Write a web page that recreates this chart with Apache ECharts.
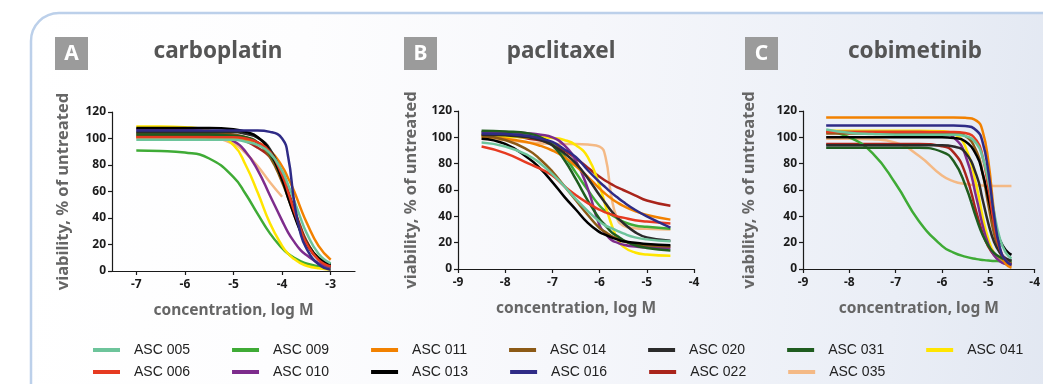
<!DOCTYPE html>
<html>
<head>
<meta charset="utf-8">
<script src="https://cdn.jsdelivr.net/npm/echarts@6/dist/echarts.min.js"></script>
<style>
  html, body { margin: 0; padding: 0; background: #fff; }
  #chart { width: 1043px; height: 384px; }
</style>
</head>
<body>
<div id="chart"></div>
<script>
// cell lines, in legend rows
const legendRow1 = ["ASC 005", "ASC 009", "ASC 011", "ASC 014", "ASC 020", "ASC 031", "ASC 041"];
const legendRow2 = ["ASC 006", "ASC 010", "ASC 013", "ASC 016", "ASC 022", "ASC 035"];
const drugs = ["carboplatin", "paclitaxel", "cobimetinib"];
const panelLetters = ["A", "B", "C"];
const carboTicks = [-7, -6, -5, -4, -3];

// carboplatin, log M
const carboLogM = [-7, -6.5, -6, -5.5, -5, -4.75, -4.5, -4.25, -4, -3.875, -3.75, -3.625, -3.5, -3.25, -3];
const carbo005 = [99, 99, 99, 99, 99, 97.6, 95, 89, 75.5, 65, 53, 40.5, 29, 13, 5.7];
const carbo006 = [101, 101, 101, 101, 101, 100, 97, 90, 72.5, 59.5, 45, 32, 21, 8.4, 3.5];
const carbo009 = [90.9, 90.6, 89.4, 84.9, 70.9, 58.1, 42.9, 28.4, 17.2, 13, 9.9, 7.5, 5.7, 3.4, 2.2];
const carbo010 = [107, 107, 106.5, 105, 98, 90, 76, 57, 38, 29, 22, 16, 12, 6, 3];
const carbo011 = [101, 101, 101, 100.8, 100.3, 99, 97, 91, 79, 70, 60, 48, 37, 19, 8.5];
const carbo013 = [108, 108, 108, 108, 107, 105, 101, 90, 69, 55, 42, 30, 21, 9.5, 4.8];
const carbo014 = [104, 104, 104, 104, 103, 101, 96.5, 86, 67, 55, 42.5, 31, 21.6, 10, 4.6];
const carbo016 = [106, 106, 106, 106, 106, 106, 106, 105, 100, 86, 52, 29, 17, 5, 1];
const carbo020 = [105, 105, 105, 105, 105, 103.5, 100.5, 92, 72.6, 59, 44, 31, 20.5, 8.7, 4.2];
const carbo022 = [102, 102, 102, 102, 101, 98, 93, 86, 72, 60, 47, 34, 23, 9, 3];
const carbo031 = [103, 103, 103, 103, 102, 101, 97, 88, 70, 58, 45, 32.5, 22, 9.7, 4.3];
const carbo035 = [101, 101, 101, 100.5, 96, 89, 79, 67, 56, null, null, null, null, null, null];
const carbo041 = [109, 109, 108.5, 106, 95, 80, 59, 36, 19, 13, 9, 6, 4, 2, 1];

// paclitaxel, log M
const paclLogM = [-8.5, -8, -7.5, -7.25, -7, -6.75, -6.5, -6.25, -6, -5.875, -5.75, -5.625, -5.5, -5.25, -5, -4.5];
const pacl005 = [96, 93, 86, 80, 72, 63, 53, 44, 36, 33, 31, 29, 27, 24, 22.5, 21];
const pacl006 = [93, 88, 80, 76, 71, 63, 56, 50, 45, 43, 41.5, 40, 39, 37, 36, 34.5];
const pacl009 = [104, 103.5, 102, 100, 95, 86, 73, 60, 48, 44, 41, 38.5, 36, 33, 32, 30.5];
const pacl010 = [104, 104, 103, 102, 100, 94, 82, 61, 33, 27, 22, 20, 18.5, 17, 16.5, 16];
const pacl011 = [100, 99, 96, 93.5, 90, 85, 78, 70, 61, 57, 53.5, 50.5, 48, 44, 41, 37.5];
const pacl013 = [99, 95, 84, 76, 66, 55, 45, 35, 28, 26, 24, 22.5, 21, 20, 19, 18];
const pacl014 = [101, 98, 90, 83, 74, 63, 52, 41, 31, 28, 25, 23, 21, 19, 18, 17];
const pacl016 = [103, 102.5, 101, 99, 96.5, 91, 85, 75, 66, 62, 58, 54.5, 51, 45, 40, 31.5];
const pacl020 = [102, 101.5, 100, 98, 94, 88, 80, 69, 56, 50, 44, 39, 35, 28, 24, 21.5];
const pacl022 = [102, 101.5, 99, 97.5, 95, 90, 84, 77, 70, 67, 64.5, 62, 60, 56, 52, 48];
const pacl031 = [105, 104.5, 103, 100, 94, 83, 68, 52, 38, 33, 28, 25, 22, 18, 16, 14];
const pacl035 = [99, 98, 96, 95.5, 95, 95, 95, 94.5, 93, 85, 55, 38, 33, 31, 30.5, 30];
const pacl041 = [101, 100.5, 100, 100, 99.5, 98, 94, 85, 63, 48, 34, 23, 17, 12.5, 11, 10];

// cobimetinib, log M
const cobiLogM = [-8.5, -8, -7.5, -7, -6.5, -6, -5.75, -5.5, -5.25, -5.125, -5, -4.875, -4.75, -4.625, -4.5];
const cobi005 = [106, 103.5, 102.5, 102, 102, 102, 102, 101, 95, 85, 67, 43, 23, 12.6, 8];
const cobi006 = [104, 104, 104, 104, 104, 104, 104, 103.3, 97.4, 85.6, 62, 34, 14.9, 6.5, 3.5];
const cobi009 = [104.7, 100, 88, 64.7, 36.5, 17.6, 12.5, 9.4, 7.5, 6.9, 6.4, 6.1, 5.9, 5.6, 5.5];
const cobi010 = [104, 104, 104, 104, 104, 103, 100, 87, 53, 33.5, 19, 10.4, 5.9, 3.8, 2.8];
const cobi011 = [115, 115, 115, 115, 115, 115, 115, 114.8, 112.5, 105, 82, 43, 14, 4, 1];
const cobi013 = [100, 100, 100, 100, 100, 100, 99.5, 97, 86, 72.8, 54, 35, 22, 14.4, 10.8];
const cobi014 = [103, 103, 103, 103, 103, 103, 103, 101, 89, 73, 49, 26.6, 13, 7, 4.5];
const cobi016 = [109, 109, 109, 109, 109, 109, 109, 108.7, 105, 96.5, 74, 40.5, 16, 6.4, 3.2];
const cobi020 = [94, 94, 94, 94, 94, 94, 93, 88.7, 70.7, 53, 34.7, 20.5, 12.3, 8.2, 6.4];
const cobi022 = [95, 95, 95, 95, 95, 93.3, 88.6, 73, 42, 27.5, 17, 10.4, 6.7, 4.8, 4];
const cobi031 = [92, 92, 92, 92, 92, 89, 82, 64, 37.7, 26, 17.6, 12.2, 9, 7.2, 6.1];
const cobi035 = [99, 99, 98.5, 96, 86, 71, 66.6, 64.5, 63.6, 63.4, 63.2, 63.1, 63, 63, 63];
const cobi041 = [105, 105, 105, 105, 105, 104.6, 102.7, 93.5, 62, 40, 22.6, 11.9, 6.4, 4, 2.8];

const colors = {
  "ASC 005": "#6dc49b", "ASC 006": "#e63a21", "ASC 009": "#3fab36", "ASC 010": "#7d2c8c",
  "ASC 011": "#f28100", "ASC 013": "#000000", "ASC 014": "#8c5a16", "ASC 016": "#2f2b86",
  "ASC 020": "#2b2b2b", "ASC 022": "#a9241b", "ASC 031": "#1f5c1f", "ASC 035": "#f4b985",
  "ASC 041": "#ffe500"
};

// draw order (last on top)
const drawOrder = ["ASC 035", "ASC 022", "ASC 009", "ASC 041", "ASC 010", "ASC 011", "ASC 014",
  "ASC 031", "ASC 020", "ASC 013", "ASC 006", "ASC 005", "ASC 016"];

const panels = [
  { xs: carboLogM, rows: { "ASC 005": carbo005, "ASC 006": carbo006, "ASC 009": carbo009, "ASC 010": carbo010,
    "ASC 011": carbo011, "ASC 013": carbo013, "ASC 014": carbo014, "ASC 016": carbo016, "ASC 020": carbo020,
    "ASC 022": carbo022, "ASC 031": carbo031, "ASC 035": carbo035, "ASC 041": carbo041 } },
  { xs: paclLogM, rows: { "ASC 005": pacl005, "ASC 006": pacl006, "ASC 009": pacl009, "ASC 010": pacl010,
    "ASC 011": pacl011, "ASC 013": pacl013, "ASC 014": pacl014, "ASC 016": pacl016, "ASC 020": pacl020,
    "ASC 022": pacl022, "ASC 031": pacl031, "ASC 035": pacl035, "ASC 041": pacl041 } },
  { xs: cobiLogM, rows: { "ASC 005": cobi005, "ASC 006": cobi006, "ASC 009": cobi009, "ASC 010": cobi010,
    "ASC 011": cobi011, "ASC 013": cobi013, "ASC 014": cobi014, "ASC 016": cobi016, "ASC 020": cobi020,
    "ASC 022": cobi022, "ASC 031": cobi031, "ASC 035": cobi035, "ASC 041": cobi041 } }
];

const grids = [
  { left: 112, top: 112, width: 243, height: 159 },
  { left: 458, top: 111, width: 236, height: 158 },
  { left: 803, top: 111, width: 235, height: 158 }
];
const titleX = [218, 561, 915];
const boxX = [55, 404, 745];
const yNameGap = [40, 38, 45];

const axisColor = "#1a1a1a";
const tickFont = "Noto Sans";

const chart = echarts.init(document.getElementById("chart"));

const xAxes = panels.map((p, i) => {
  const base = {
    gridIndex: i,
    type: "value",
    axisLine: { onZero: false, lineStyle: { color: axisColor, width: 1.2 } },
    axisTick: { length: 4, lineStyle: { color: axisColor, width: 1.2 } },
    axisLabel: { color: axisColor, fontWeight: "bold", fontSize: 12, fontFamily: tickFont, margin: 8 },
    splitLine: { show: false },
    name: "concentration, log M",
    nameLocation: "middle",
    nameGap: 32,
    nameTextStyle: { color: "#666", fontWeight: "bold", fontSize: 15.5, fontFamily: "Noto Sans" }
  };
  if (i === 0) {
    base.min = -7.5;
    base.max = -2.5;
    base.axisTick.customValues = carboTicks;
    base.axisLabel.customValues = carboTicks;
  } else {
    base.min = -9;
    base.max = -4;
    base.interval = 1;
  }
  return base;
});

const yAxes = panels.map((p, i) => ({
  gridIndex: i,
  type: "value",
  min: 0,
  max: 120,
  interval: 20,
  axisLine: { show: true, lineStyle: { color: axisColor, width: 1.2 } },
  axisTick: { show: true, length: 4, lineStyle: { color: axisColor, width: 1.2 } },
  axisLabel: { color: axisColor, fontWeight: "bold", fontSize: 12, fontFamily: tickFont, margin: 6 },
  splitLine: { show: false },
  name: "viability, % of untreated",
  nameLocation: "middle",
  nameRotate: 90,
  nameGap: yNameGap[i],
  nameTextStyle: { color: "#666", fontWeight: "bold", fontSize: 16.5, fontFamily: "Noto Sans" }
}));

const series = [];
panels.forEach((p, i) => {
  drawOrder.forEach((name) => {
    series.push({
      name,
      type: "line",
      xAxisIndex: i,
      yAxisIndex: i,
      data: p.xs.map((x, k) => [x, p.rows[name][k]]),
      smooth: 0.5,
      symbol: "none",
      color: colors[name],
      lineStyle: { width: 2.5, color: colors[name] }
    });
  });
});

const legendBase = {
  left: 93,
  padding: 0,
  icon: "rect",
  itemWidth: 27,
  itemHeight: 4,
  itemGap: 42,
  selectedMode: false,
  textStyle: { color: "#222", fontSize: 14, fontFamily: "Liberation Sans", padding: [0, 0, 0, 9] }
};

const graphic = [
  {
    type: "rect",
    z: -10,
    silent: true,
    shape: { x: 31, y: 13, width: 1100, height: 500, r: 28 },
    style: {
      fill: { type: "linear", x: 0, y: 0, x2: 1, y2: 0.2,
        colorStops: [
          { offset: 0, color: "#ffffff" }, { offset: 0.25, color: "#fdfdfe" },
          { offset: 0.5, color: "#f6f7fb" }, { offset: 0.8, color: "#eaeef6" },
          { offset: 1, color: "#dfe5f0" }
        ] },
      stroke: "#bcd0ea",
      lineWidth: 2.5
    }
  }
];
drugs.forEach((d, i) => {
  graphic.push({
    type: "rect", silent: true,
    shape: { x: boxX[i], y: 37, width: 33, height: 33 },
    style: { fill: "#9b9b9b" }
  });
  graphic.push({
    type: "text", silent: true, x: boxX[i] + 16.5, y: 54,
    style: { text: panelLetters[i], fill: "#fff", font: "bold 21px 'Noto Sans'", align: "center", verticalAlign: "middle" }
  });
  graphic.push({
    type: "text", silent: true, x: titleX[i], y: 52,
    style: { text: d, fill: "#555", font: "bold 22.5px 'Noto Sans'", align: "center", verticalAlign: "middle" }
  });
});

chart.setOption({
  backgroundColor: "#ffffff",
  animation: false,
  graphic,
  grid: grids,
  xAxis: xAxes,
  yAxis: yAxes,
  legend: [
    Object.assign({}, legendBase, { top: 343, data: legendRow1 }),
    Object.assign({}, legendBase, { top: 365, data: legendRow2 })
  ],
  series
});
</script>
</body>
</html>
